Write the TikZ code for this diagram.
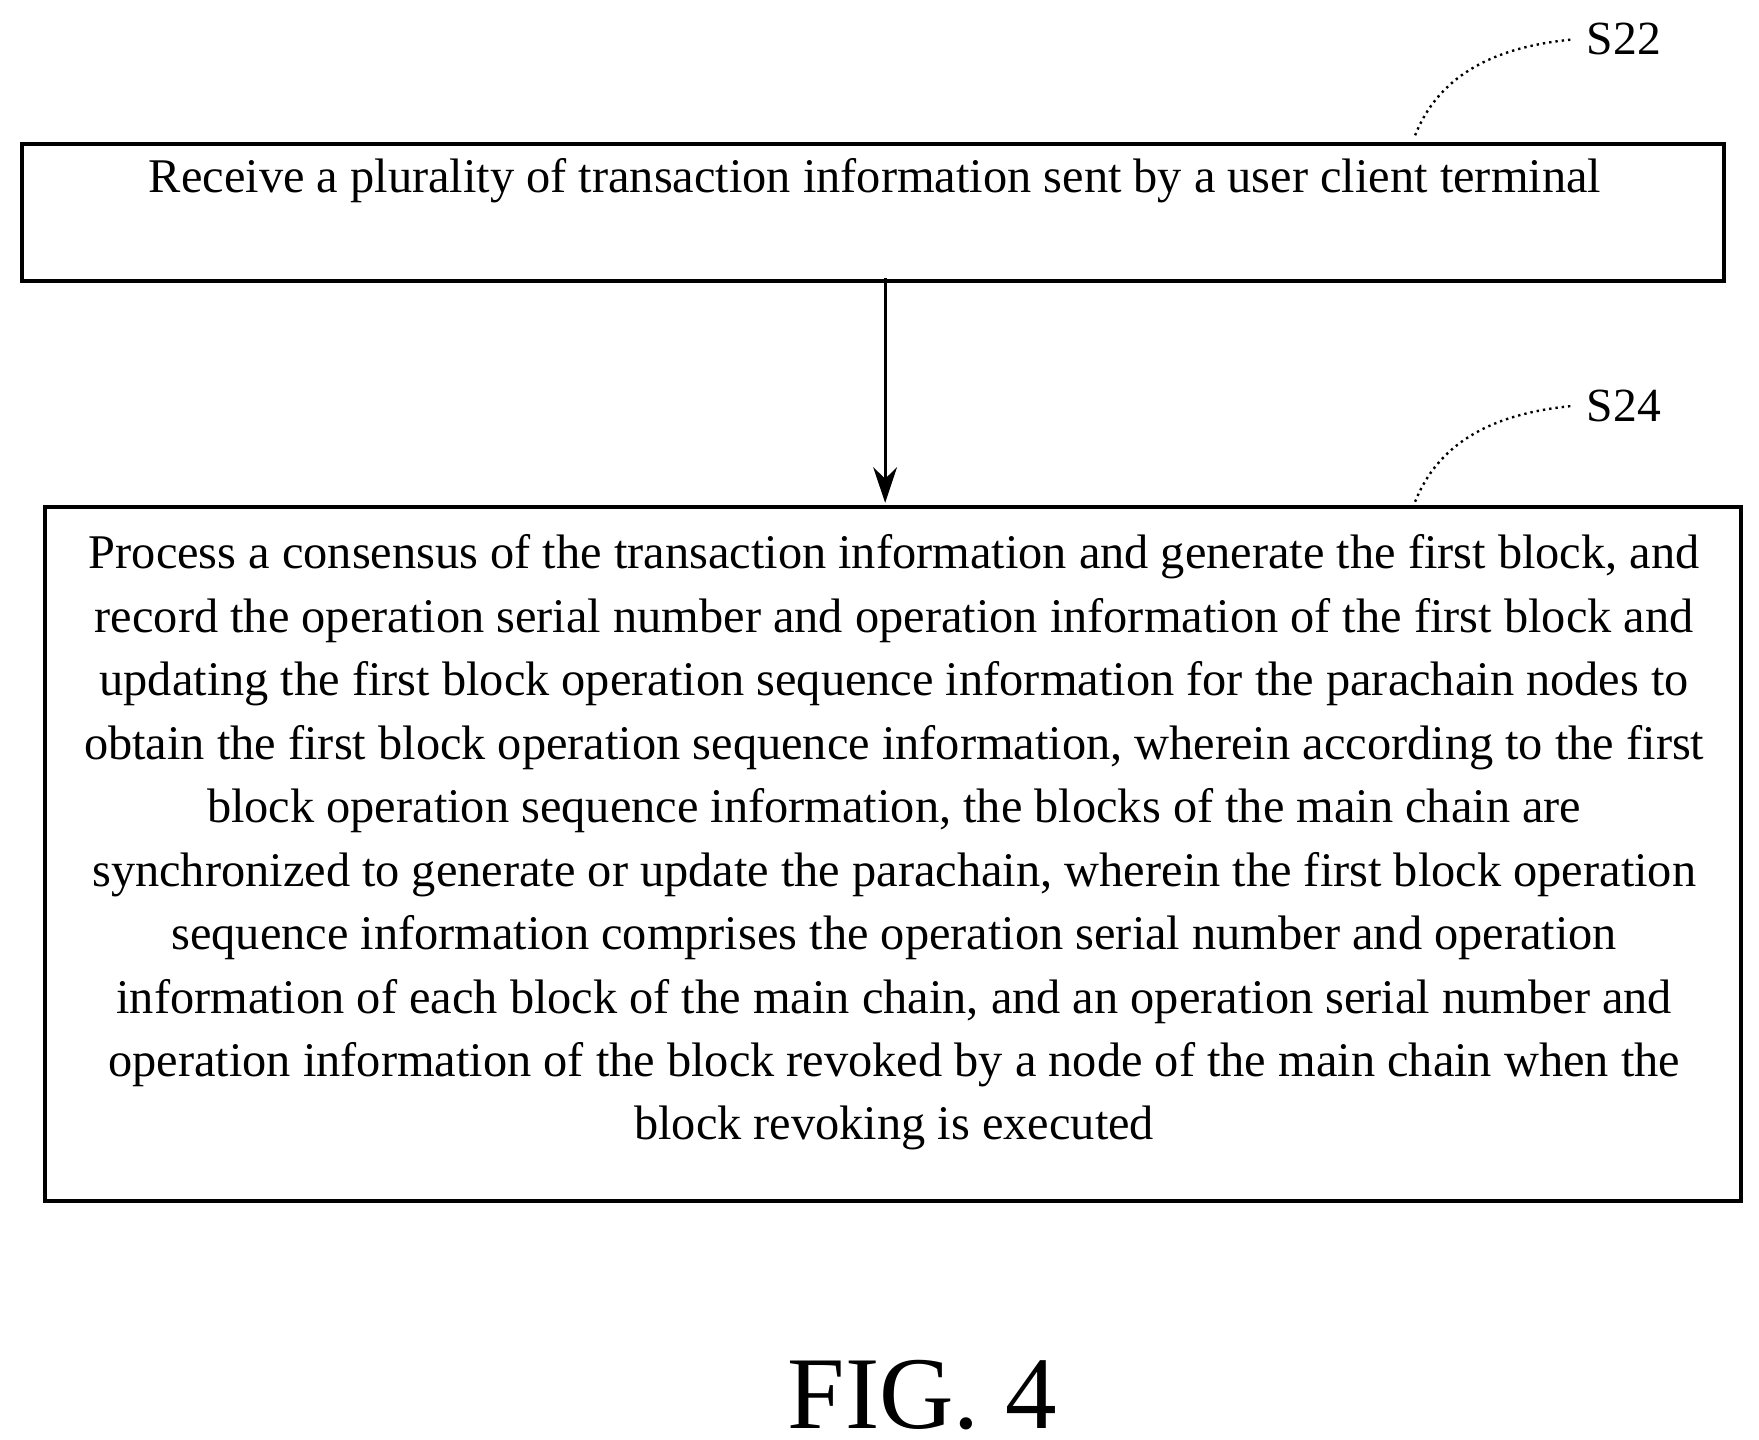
\documentclass[tikz,border=0pt]{standalone}
\usepackage{fontspec}
\usetikzlibrary{arrows.meta}
\setmainfont{Liberation Serif}
\begin{document}
\begin{tikzpicture}[x=0.01cm,y=-0.01cm,
  box/.style={draw,line width=1pt},
  txt/.style={align=center,font=\fontsize{12.2}{16.0}\selectfont},
  lbl/.style={font=\fontsize{12}{14}\selectfont},
  lead/.style={densely dotted,line width=0.6pt}]
\useasboundingbox (0,0) rectangle (1560,1277);
\node[box,minimum width=15.08cm,minimum height=1.21cm,anchor=north west] (b1) at (18,126) {};
\node[txt] (t1) at (776,160) {Receive a plurality of transaction information sent by a user client terminal};
\node[box,minimum width=15.03cm,minimum height=6.15cm,anchor=north west] (b2) at (38,448) {};
\node[txt,anchor=north] (t2) at (793,462) {Process a consensus of the transaction information and generate the first block, and\\
record the operation serial number and operation information of the first block and\\
updating the first block operation sequence information for the parachain nodes to\\
obtain the first block operation sequence information, wherein according to the first\\
block operation sequence information, the blocks of the main chain are\\
synchronized to generate or update the parachain, wherein the first block operation\\
sequence information comprises the operation serial number and operation\\
information of each block of the main chain, and an operation serial number and\\
operation information of the block revoked by a node of the main chain when the\\
block revoking is executed};
\coordinate (a1) at (785,247);
\coordinate (a2) at (785,446);
\draw[line width=0.8pt,-{Stealth[length=9pt,width=6pt]}] (a1) -- (a2);
\node[lbl,anchor=west] (s22) at (1395,35) {S22};
\node[lbl,anchor=west] (s24) at (1395,360) {S24};
\coordinate (c22) at (1255,120);
\coordinate (c24) at (1255,445);
\draw[lead] (c22) .. controls (1275,70) and (1320,42) .. (s22.west);
\draw[lead] (c24) .. controls (1275,395) and (1320,367) .. (s24.west);
\node[font=\fontsize{26}{30}\selectfont] (fig) at (818,1237) {FIG. 4};
\end{tikzpicture}
\end{document}
